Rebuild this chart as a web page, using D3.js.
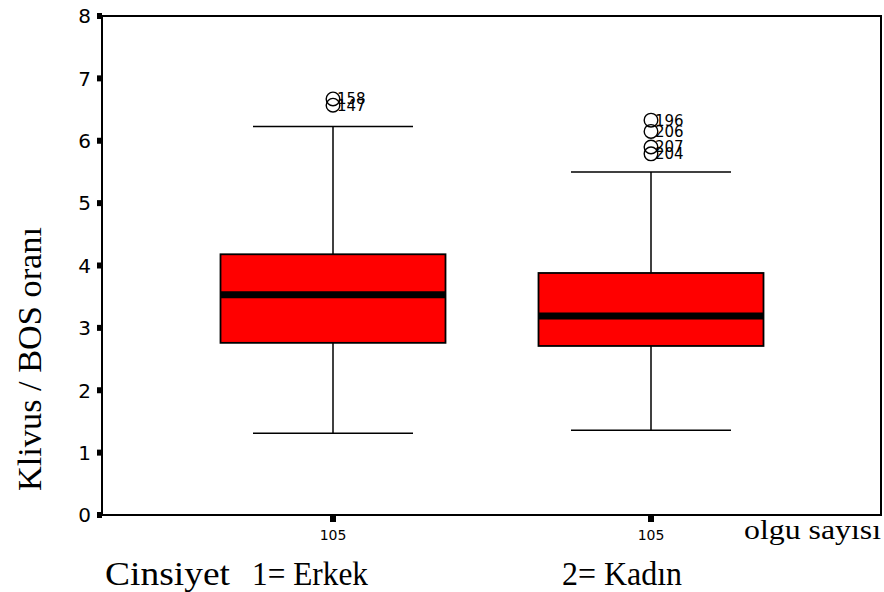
<!DOCTYPE html>
<html>
<head>
<meta charset="utf-8">
<script src="https://cdn.jsdelivr.net/npm/d3@7"></script>
<style>
  html, body { margin: 0; padding: 0; background: #fff; }
  svg { display: block; }
</style>
</head>
<body>
<svg id="chart" width="884" height="592"></svg>
<script>
// Box plot summaries per group (Klivus / BOS ratio)
const groups = ["1= Erkek", "2= Kadın"];
const counts = [105, 105];
const q1 = [2.76, 2.71];
const medians = [3.53, 3.19];
const q3 = [4.18, 3.88];
const whiskerLow = [1.31, 1.36];
const whiskerHigh = [6.23, 5.50];
// Outliers: group index, value, case id
const outlierGroup = [0, 0, 1, 1, 1, 1];
const outlierValue = [6.67, 6.57, 6.33, 6.15, 5.90, 5.79];
const outlierId = ["158", "147", "196", "206", "207", "204"];
const yTicks = [0, 1, 2, 3, 4, 5, 6, 7, 8];

const svg = d3.select("#chart");
const plotLeft = 102, plotRight = 881, plotTop = 16, plotBottom = 515;

const y = d3.scaleLinear().domain([0, 8]).range([plotBottom, plotTop]);
const x = d3.scalePoint().domain(groups).range([333, 651]);

const boxW = 225, whiskW = 160;

// Plot frame
svg.append("rect")
  .attr("x", plotLeft).attr("y", plotTop)
  .attr("width", plotRight - plotLeft).attr("height", plotBottom - plotTop)
  .attr("fill", "none").attr("stroke", "#000").attr("stroke-width", 2);

// Y axis ticks and labels
const yAxis = svg.append("g");
yTicks.forEach(t => {
  yAxis.append("rect")
    .attr("x", plotLeft - 5).attr("y", y(t) - 3)
    .attr("width", 5).attr("height", 6).attr("fill", "#000");
  yAxis.append("text")
    .attr("x", plotLeft - 11).attr("y", y(t) + 7.3)
    .attr("text-anchor", "end")
    .attr("font-family", "DejaVu Sans, sans-serif")
    .attr("font-size", 20)
    .text(t);
});

// X axis ticks and count labels
groups.forEach((g, i) => {
  svg.append("rect")
    .attr("x", x(g) - 3).attr("y", plotBottom + 1)
    .attr("width", 6).attr("height", 6).attr("fill", "#000");
  svg.append("text")
    .attr("x", x(g)).attr("y", 540)
    .attr("text-anchor", "middle")
    .attr("font-family", "DejaVu Sans, sans-serif")
    .attr("font-size", 14)
    .text(counts[i]);
});

// Boxes
groups.forEach((g, i) => {
  const cx = x(g);
  const gBox = svg.append("g");
  // whisker stems
  gBox.append("line")
    .attr("x1", cx).attr("x2", cx)
    .attr("y1", y(whiskerHigh[i])).attr("y2", y(q3[i]))
    .attr("stroke", "#000").attr("stroke-width", 1.5);
  gBox.append("line")
    .attr("x1", cx).attr("x2", cx)
    .attr("y1", y(q1[i])).attr("y2", y(whiskerLow[i]))
    .attr("stroke", "#000").attr("stroke-width", 1.5);
  // whisker caps
  [whiskerHigh[i], whiskerLow[i]].forEach(v => {
    gBox.append("line")
      .attr("x1", cx - whiskW / 2).attr("x2", cx + whiskW / 2)
      .attr("y1", y(v)).attr("y2", y(v))
      .attr("stroke", "#000").attr("stroke-width", 1.5);
  });
  // box
  gBox.append("rect")
    .attr("x", cx - boxW / 2).attr("y", y(q3[i]))
    .attr("width", boxW).attr("height", y(q1[i]) - y(q3[i]))
    .attr("fill", "#ff0000").attr("stroke", "#000").attr("stroke-width", 1.8);
  // median
  gBox.append("line")
    .attr("x1", cx - boxW / 2).attr("x2", cx + boxW / 2)
    .attr("y1", y(medians[i])).attr("y2", y(medians[i]))
    .attr("stroke", "#000").attr("stroke-width", 7);
});

// Outliers
outlierValue.forEach((v, k) => {
  const cx = x(groups[outlierGroup[k]]);
  svg.append("circle")
    .attr("cx", cx).attr("cy", y(v)).attr("r", 6.8)
    .attr("fill", "none").attr("stroke", "#000").attr("stroke-width", 1.4);
  svg.append("text")
    .attr("x", cx + 4).attr("y", y(v) + 5.5)
    .attr("font-family", "DejaVu Sans, sans-serif")
    .attr("font-size", 15)
    .text(outlierId[k]);
});

// Axis titles
const serif = "Liberation Serif, Times New Roman, serif";
svg.append("text")
  .attr("transform", "translate(41,359) rotate(-90)")
  .attr("text-anchor", "middle")
  .attr("font-family", serif).attr("font-size", 34)
  .attr("textLength", 264).attr("lengthAdjust", "spacingAndGlyphs")
  .text("Klivus / BOS oranı");
svg.append("text")
  .attr("x", 744).attr("y", 539)
  .attr("font-family", serif).attr("font-size", 27)
  .attr("textLength", 137).attr("lengthAdjust", "spacingAndGlyphs")
  .text("olgu sayısı");
svg.append("text")
  .attr("x", 105).attr("y", 585)
  .attr("font-family", serif).attr("font-size", 33)
  .attr("textLength", 125).attr("lengthAdjust", "spacingAndGlyphs")
  .text("Cinsiyet");
const catLabelX = [252, 562], catLabelW = [116, 120];
groups.forEach((g, i) => {
  svg.append("text")
    .attr("x", catLabelX[i]).attr("y", 585)
    .attr("font-family", serif).attr("font-size", 33)
    .attr("textLength", catLabelW[i]).attr("lengthAdjust", "spacingAndGlyphs")
    .text(g);
});
</script>
</body>
</html>
